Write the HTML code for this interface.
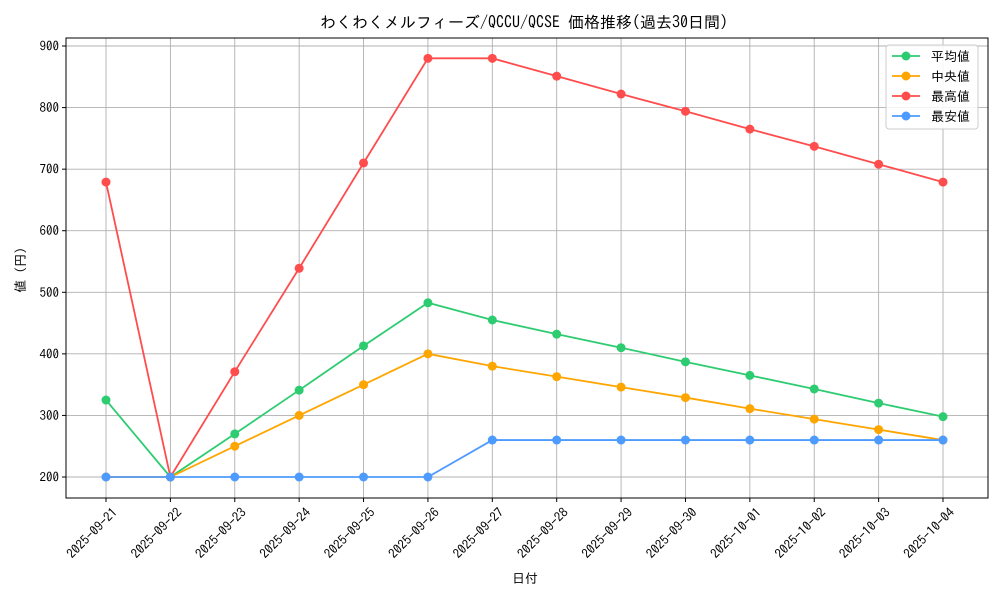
<!DOCTYPE html>
<html><head><meta charset="utf-8"><style>
html,body{margin:0;padding:0;background:#fff}
svg{display:block;font-family:"IPAGothic","Liberation Sans","Noto Sans CJK JP",sans-serif}
</style></head><body>
<svg id="s" width="1000" height="600" xmlns="http://www.w3.org/2000/svg"></svg>
<script>
const s=document.getElementById('s');
const L=66,R=988,T=38,B=498;
const X=i=>106+i*64.385, Y=v=>477-(v-200)*0.6157;
let h='';
const dates=['2025-09-21','2025-09-22','2025-09-23','2025-09-24','2025-09-25','2025-09-26','2025-09-27','2025-09-28','2025-09-29','2025-09-30','2025-10-01','2025-10-02','2025-10-03','2025-10-04'];
h+=`<rect x="0" y="0" width="1000" height="600" fill="#fff"/>`;
for(let i=0;i<14;i++){const x=X(i);h+=`<line x1="${x}" y1="${T}" x2="${x}" y2="${B}" stroke="#b0b0b0" stroke-width="0.9"/><line x1="${x}" y1="${B}" x2="${x}" y2="${B+4}" stroke="#000"/>`;
h+=`<text transform="translate(${x+6},${B+9}) rotate(-45)" text-anchor="end" font-size="13" dominant-baseline="hanging">${dates[i]}</text>`;}
for(let v=200;v<=900;v+=100){const y=Y(v);h+=`<line x1="${L}" y1="${y}" x2="${R}" y2="${y}" stroke="#b0b0b0" stroke-width="0.9"/><line x1="${L-4}" y1="${y}" x2="${L}" y2="${y}" stroke="#000"/><text x="${L-7}" y="${y+4.5}" text-anchor="end" font-size="13">${v}</text>`;}
h+=`<rect x="${L}" y="${T}" width="${R-L}" height="${B-T}" fill="none" stroke="#000" stroke-width="1"/>`;
const series=[
['#2ecc71',[325,200,270,341,413,483,455,432,410,387,365,343,320,298]],
['#ffa500',[200,200,250,300,350,400,380,363,346,329,311,294,277,260]],
['#ff4d4d',[679,200,371,539,710,880,880,851,822,794,765,737,708,679]],
['#4d9bff',[200,200,200,200,200,200,260,260,260,260,260,260,260,260]]];
series.forEach(([c,d])=>{h+=`<polyline fill="none" stroke="${c}" stroke-width="1.8" points="${d.map((v,i)=>X(i)+','+Y(v)).join(' ')}"/>`;d.forEach((v,i)=>h+=`<circle cx="${X(i)}" cy="${Y(v)}" r="4.5" fill="${c}"/>`);});
h+=`<text x="524" y="28" text-anchor="middle" font-size="16">わくわくメルフィーズ/QCCU/QCSE 価格推移(過去30日間)</text>`;
h+=`<text x="525" y="583" text-anchor="middle" font-size="13">日付</text>`;
h+=`<text transform="translate(25,270) rotate(-90)" text-anchor="middle" font-size="13">値 (円)</text>`;
h+=`<rect x="886" y="45" width="92" height="84" rx="3" fill="#fff" fill-opacity="0.85" stroke="#ccc"/>`;
const labs=['平均値','中央値','最高値','最安値'];
series.forEach(([c],k)=>{const y=56+k*20;h+=`<line x1="892" y1="${y}" x2="920" y2="${y}" stroke="${c}" stroke-width="1.8"/><circle cx="906" cy="${y}" r="4.5" fill="${c}"/><text x="931" y="${y+5}" font-size="13">${labs[k]}</text>`;});
s.innerHTML=h;
</script>
</body></html>
